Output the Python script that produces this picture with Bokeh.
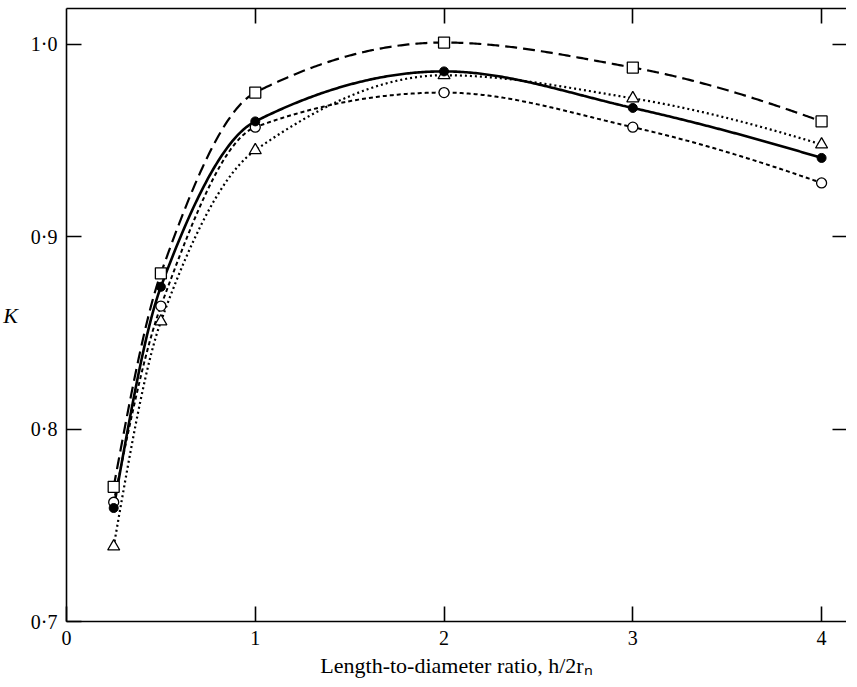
import numpy as np
from bokeh.plotting import figure
from bokeh.models import Range1d, LinearAxis, FixedTicker, CustomJSTickFormatter
from bokeh.embed import file_html
from bokeh.resources import INLINE

# Data
ratio = [0.25, 0.5, 1, 2, 3, 4]
k_square = [0.770, 0.881, 0.975, 1.001, 0.988, 0.960]
k_filled = [0.759, 0.874, 0.960, 0.986, 0.967, 0.941]
k_open = [0.762, 0.864, 0.957, 0.975, 0.957, 0.928]
k_triangle = [0.739, 0.856, 0.945, 0.984, 0.972, 0.948]

x_ticks = [0, 1, 2, 3, 4]
y_ticks = [0.7, 0.8, 0.9, 1.0]

FONT = "Liberation Serif, Times New Roman, serif"


def pchip(x, y, xs):
    x = np.asarray(x, float)
    y = np.asarray(y, float)
    h = np.diff(x)
    d = np.diff(y) / h
    n = len(x)
    m = np.zeros(n)
    for k in range(1, n - 1):
        if d[k - 1] * d[k] <= 0:
            m[k] = 0.0
        else:
            w1 = 2 * h[k] + h[k - 1]
            w2 = h[k] + 2 * h[k - 1]
            m[k] = (w1 + w2) / (w1 / d[k - 1] + w2 / d[k])

    def end(h0, h1, d0, d1):
        mm = ((2 * h0 + h1) * d0 - h0 * d1) / (h0 + h1)
        if np.sign(mm) != np.sign(d0):
            mm = 0.0
        elif np.sign(d0) != np.sign(d1) and abs(mm) > abs(3 * d0):
            mm = 3 * d0
        return mm

    m[0] = end(h[0], h[1], d[0], d[1])
    m[-1] = end(h[-1], h[-2], d[-1], d[-2])
    out = np.empty_like(xs)
    for i, xv in enumerate(xs):
        k = min(max(np.searchsorted(x, xv) - 1, 0), n - 2)
        t = (xv - x[k]) / h[k]
        h00 = 2 * t**3 - 3 * t**2 + 1
        h10 = t**3 - 2 * t**2 + t
        h01 = -2 * t**3 + 3 * t**2
        h11 = t**3 - t**2
        out[i] = h00 * y[k] + h10 * h[k] * m[k] + h01 * y[k + 1] + h11 * h[k] * m[k + 1]
    return out


p = figure(frame_width=780, frame_height=613, output_backend="svg", toolbar_location=None,
           x_range=Range1d(0, 4.132), y_range=Range1d(0.7, 1.0187),
           min_border_left=64, min_border_top=8, min_border_right=0,
           min_border_bottom=0)
p.outline_line_color = None
p.xgrid.visible = False
p.ygrid.visible = False
p.background_fill_color = "white"
p.border_fill_color = "white"

xa = p.xaxis[0]
xa.ticker = FixedTicker(ticks=x_ticks)
xa.formatter = CustomJSTickFormatter(code="return tick.toFixed(0);")
ya = p.yaxis[0]
ya.ticker = FixedTicker(ticks=y_ticks)
ya.formatter = CustomJSTickFormatter(code="return tick.toFixed(1).replace('.', '\u00b7');")

for ax in (xa, ya):
    ax.major_tick_in = 15
    ax.major_tick_out = 0
    ax.minor_tick_line_color = None
    ax.axis_line_width = 1.6
    ax.major_tick_line_width = 1.6
    ax.major_label_text_font = FONT
    ax.major_label_text_font_size = "20px"
    ax.major_label_text_color = "black"
    ax.axis_label_text_font = FONT
    ax.axis_label_text_color = "black"

xa.axis_label = "Length-to-diameter ratio, h/2r\u2099"
xa.axis_label_text_font_size = "22px"
xa.axis_label_text_font_style = "normal"
xa.major_label_standoff = 9
xa.axis_label_standoff = 5

ya.axis_label = "K"
ya.axis_label_text_font_size = "22px"
ya.axis_label_text_font_style = "italic"
ya.axis_label_orientation = "horizontal"
ya.major_label_standoff = 9
ya.axis_label_standoff = 10

top = LinearAxis(ticker=FixedTicker(ticks=[1, 2, 3, 4]))
top.major_label_text_font_size = "1px"
top.major_label_text_color = None
top.major_label_standoff = 0
top.major_tick_in = 15
top.major_tick_out = 0
top.minor_tick_line_color = None
top.axis_line_width = 1.6
top.major_tick_line_width = 1.6
p.add_layout(top, "above")

right = LinearAxis(ticker=FixedTicker(ticks=[0.8, 0.9, 1.0]))
right.major_label_text_font_size = "1px"
right.major_label_text_color = None
right.major_label_standoff = 0
right.major_tick_in = 14
right.major_tick_out = 0
right.minor_tick_line_color = None
right.axis_line_color = None
right.major_tick_line_width = 1.6
p.add_layout(right, "right")

xs = np.linspace(ratio[0], ratio[-1], 400)

p.line(xs, pchip(ratio, k_square, xs), line_color="black", line_width=2.2, line_dash="12 6")
p.line(xs, pchip(ratio, k_filled, xs), line_color="black", line_width=2.6)
p.line(xs, pchip(ratio, k_open, xs), line_color="black", line_width=2.0, line_dash="4 3")
p.line(xs, pchip(ratio, k_triangle, xs), line_color="black", line_width=2.2, line_dash="2 3")

p.scatter(ratio, k_square, marker="square", size=11, fill_color="white", line_color="black", line_width=1.3)
p.scatter(ratio, k_open, marker="circle", size=10, fill_color="white", line_color="black", line_width=1.3)
p.scatter(ratio, k_triangle, marker="triangle", size=12, fill_color="white", line_color="black", line_width=1.3)
p.scatter(ratio, k_filled, marker="circle", size=9, fill_color="black", line_color="black", line_width=1.0)

open("out.html", "w").write(file_html(p, INLINE))
